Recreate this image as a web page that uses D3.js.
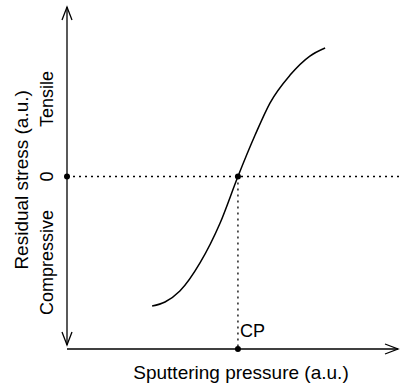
<!DOCTYPE html>
<html>
<head>
<meta charset="utf-8">
<script src="https://cdn.jsdelivr.net/npm/d3@7"></script>
<style>
  body { margin: 0; background: #fff; }
  text { font-family: "Liberation Sans", Arial, Helvetica, sans-serif; fill: #000; }
</style>
</head>
<body>
<svg id="chart" width="400" height="385"></svg>
<script>
// curve, arbitrary units (x: 0..100, y: -100..100)
const pressure = [25.8, 29.7, 34.2, 40.3, 46.4, 51.8, 57.0, 61.5, 67.6, 73.6, 78.2];
const stress = [-76.9, -74.5, -68.0, -51.3, -27.6, 0, 24.6, 43.6, 60.2, 71.5, 76.3];
const criticalPressure = 51.8;
const yLabels = ["Tensile", "0", "Compressive"];
const yLabelValues = [46, 0, -51];

const svg = d3.select("#chart");
const x = d3.scaleLinear().domain([0, 100]).range([67, 397]);
const y = d3.scaleLinear().domain([-100, 100]).range([345, 8]);
const xAxisY = 349;

const data = pressure.map((p, i) => ({ p: p, s: stress[i] }));

// dotted guides
svg.append("line")
    .attr("x1", x(0)).attr("x2", 400)
    .attr("y1", y(0)).attr("y2", y(0))
    .attr("stroke", "#000").attr("stroke-width", 1.3)
    .attr("stroke-dasharray", "2,4");
svg.append("line")
    .attr("x1", x(criticalPressure)).attr("x2", x(criticalPressure))
    .attr("y1", y(0)).attr("y2", xAxisY)
    .attr("stroke", "#000").attr("stroke-width", 1.3)
    .attr("stroke-dasharray", "2,4");

// axes
svg.append("line")
    .attr("x1", x(0)).attr("x2", x(0))
    .attr("y1", y(100) - 1).attr("y2", y(-100))
    .attr("stroke", "#000").attr("stroke-width", 1.3);
svg.append("line")
    .attr("x1", x(0)).attr("x2", x(100) + 1)
    .attr("y1", xAxisY).attr("y2", xAxisY)
    .attr("stroke", "#000").attr("stroke-width", 1.3);

const arrow = (tx, ty, dx, dy) => {
    // open V arrow head, (dx,dy) is the pointing direction
    const L = 13, W = 5;
    const px = -dy, py = dx;
    return `M${tx - dx * L + px * W},${ty - dy * L + py * W}L${tx},${ty}L${tx - dx * L - px * W},${ty - dy * L - py * W}`;
};
svg.append("path").attr("d", arrow(x(0), y(100) - 1, 0, -1))
    .attr("fill", "none").attr("stroke", "#000").attr("stroke-width", 1.3);
svg.append("path").attr("d", arrow(x(0), y(-100), 0, 1))
    .attr("fill", "none").attr("stroke", "#000").attr("stroke-width", 1.3);
svg.append("path").attr("d", arrow(x(100) + 1, xAxisY, 1, 0))
    .attr("fill", "none").attr("stroke", "#000").attr("stroke-width", 1.3);

// the curve
svg.append("path")
    .datum(data)
    .attr("d", d3.line().x(d => x(d.p)).y(d => y(d.s)).curve(d3.curveMonotoneX))
    .attr("fill", "none").attr("stroke", "#000").attr("stroke-width", 1.5);

// dots
[[0, 0], [criticalPressure, 0]].forEach(d => {
    svg.append("circle").attr("cx", x(d[0])).attr("cy", y(d[1])).attr("r", 3).attr("fill", "#000");
});
svg.append("circle").attr("cx", x(criticalPressure)).attr("cy", xAxisY).attr("r", 3).attr("fill", "#000");

// labels
svg.selectAll(".ylab")
    .data(yLabels)
    .enter()
    .append("text")
    .attr("class", "ylab")
    .attr("transform", (d, i) => `translate(53,${y(yLabelValues[i])}) rotate(-90)`)
    .attr("text-anchor", "middle")
    .style("font-size", "18px")
    .text(d => d);

svg.append("text")
    .attr("transform", `translate(28,${y(-2)}) rotate(-90)`)
    .attr("text-anchor", "middle")
    .style("font-size", "19px")
    .text("Residual stress (a.u.)");

svg.append("text")
    .attr("x", 241).attr("y", 379)
    .attr("text-anchor", "middle")
    .style("font-size", "19px")
    .text("Sputtering pressure (a.u.)");

svg.append("text")
    .attr("x", x(criticalPressure) + 2).attr("y", 337)
    .style("font-size", "18px")
    .text("CP");
</script>
</body>
</html>
